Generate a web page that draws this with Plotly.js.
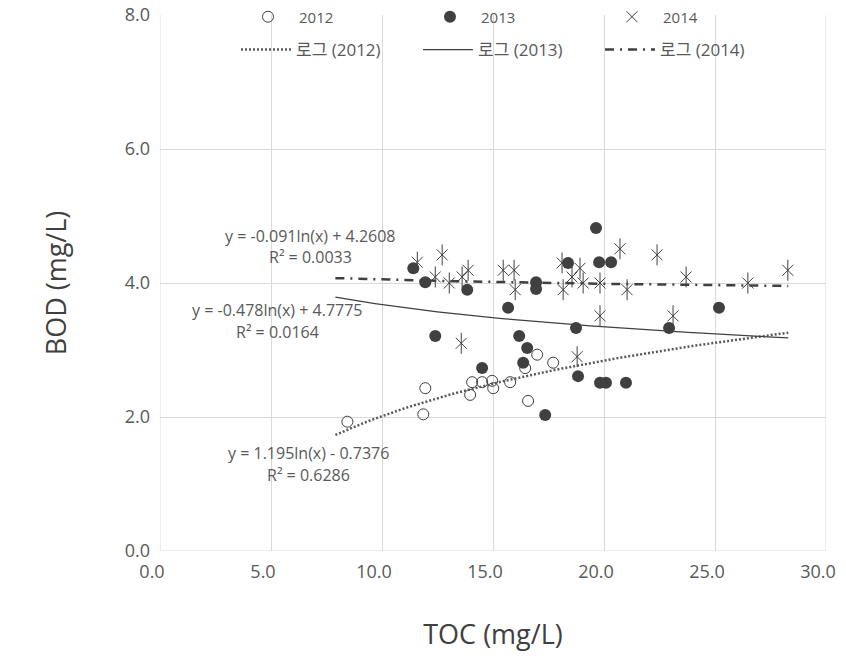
<!DOCTYPE html>
<html>
<head>
<meta charset="utf-8">
<script src="https://cdn.plot.ly/plotly-3.0.1.min.js"></script>
<style>
  html, body { margin: 0; padding: 0; background: #ffffff; }
  #chart { width: 846px; height: 661px; }
</style>
</head>
<body>
<div id="chart"></div>
<script>
// TOC vs BOD measurements by year (mg/L)
const toc2012 = [8.44, 11.95, 11.86, 13.97, 14.06, 14.51, 14.96, 15.01, 15.77, 16.99, 17.71, 16.45, 16.58];
const bod2012 = [1.93, 2.43, 2.04, 2.33, 2.52, 2.52, 2.54, 2.43, 2.52, 2.93, 2.81, 2.73, 2.24];

const toc2013 = [11.41, 11.95, 13.84, 12.40, 14.51, 16.94, 16.94, 15.68, 16.18, 16.54, 16.36, 17.35,
                 18.38, 19.78, 20.32, 19.64, 25.18, 18.74, 22.93, 18.83, 19.82, 20.09, 20.99];
const bod2013 = [4.22, 4.01, 3.90, 3.21, 2.73, 4.01, 3.91, 3.63, 3.21, 3.03, 2.81, 2.03,
                 4.30, 4.31, 4.31, 4.82, 3.63, 3.33, 3.33, 2.61, 2.51, 2.51, 2.51];

const toc2014 = [11.59, 12.71, 12.40, 13.03, 13.61, 13.88, 13.57, 15.46, 15.95, 16.00, 18.11, 18.92, 18.56,
                 18.16, 19.06, 19.82, 19.82, 18.79, 20.72, 21.04, 22.39, 23.70, 23.11, 26.48, 28.28];
const bod2014 = [4.31, 4.42, 4.09, 4.00, 4.09, 4.19, 3.10, 4.19, 4.19, 3.90, 4.30, 4.22, 4.09,
                 3.90, 4.00, 4.00, 3.51, 2.90, 4.51, 3.90, 4.42, 4.09, 3.51, 4.00, 4.19];

// Logarithmic trendlines: y = a*ln(x) + b
const years      = ['2012', '2013', '2014'];
const trendA     = [1.195, -0.478, -0.091];
const trendB     = [-0.7376, 4.7775, 4.2608];
const trendR2    = ['0.6286', '0.0164', '0.0033'];
const trendRange = [7.9, 28.3];

const xTicks = [0, 5, 10, 15, 20, 25, 30];
const yTicks = [0, 2, 4, 6, 8];

const FONT = 'Open Sans, "Noto Sans CJK KR", sans-serif';
const INK = '#404040';
const TXT = '#595959';

function equationText(i) {
  const a = trendA[i], b = trendB[i];
  const sign = b < 0 ? ' - ' : ' + ';
  return 'y = ' + a + 'ln(x)' + sign + Math.abs(b);
}
function trendPoints(i) {
  const xs = [], ys = [];
  const steps = 80;
  for (let k = 0; k <= steps; k++) {
    const x = trendRange[0] + (trendRange[1] - trendRange[0]) * k / steps;
    xs.push(x);
    ys.push(trendA[i] * Math.log(x) + trendB[i]);
  }
  return { xs, ys };
}

const t12 = trendPoints(0), t13 = trendPoints(1), t14 = trendPoints(2);

const traces = [
  { x: toc2012, y: bod2012, name: years[0], type: 'scatter', mode: 'markers', legend: 'legend',
    marker: { symbol: 'circle-open', size: 11, color: INK, line: { width: 1, color: INK } } },
  { x: toc2013, y: bod2013, name: years[1], type: 'scatter', mode: 'markers', legend: 'legend',
    marker: { symbol: 'circle', size: 12, color: INK } },
  { x: toc2014, y: bod2014, name: years[2], type: 'scatter', mode: 'markers', legend: 'legend',
    marker: { symbol: 'x-thin-open', size: 11, color: INK, line: { width: 1, color: INK } } },
  { x: toc2014, y: bod2014, name: years[2], type: 'scatter', mode: 'markers', showlegend: false,
    marker: { symbol: 'line-ns-open', size: 15, color: INK, line: { width: 1, color: INK } } },
  { x: t12.xs, y: t12.ys, name: '로그 (' + years[0] + ')', type: 'scatter', mode: 'lines', legend: 'legend2',
    line: { color: TXT, width: 2.5, dash: '2px,2px' } },
  { x: t13.xs, y: t13.ys, name: '로그 (' + years[1] + ')', type: 'scatter', mode: 'lines', legend: 'legend2',
    line: { color: INK, width: 1.25 } },
  { x: t14.xs, y: t14.ys, name: '로그 (' + years[2] + ')', type: 'scatter', mode: 'lines', legend: 'legend2',
    line: { color: INK, width: 2.5, dash: '9px,6px,2px,6px' } }
];

// Equation labels (centre x, line y in data units)
const labelPos = [
  { x: 6.7, yEq: 1.47, yR: 1.14 },
  { x: 5.3, yEq: 3.60, yR: 3.27 },
  { x: 6.8, yEq: 4.70, yR: 4.39 }
];
const annotations = [];
for (let i = 0; i < 3; i++) {
  annotations.push({ x: labelPos[i].x, y: labelPos[i].yEq, xref: 'x', yref: 'y', text: equationText(i),
    showarrow: false, font: { family: FONT, size: 16, color: TXT } });
  annotations.push({ x: labelPos[i].x, y: labelPos[i].yR, xref: 'x', yref: 'y', text: 'R² = ' + trendR2[i],
    showarrow: false, font: { family: FONT, size: 16, color: TXT } });
}

const legendCommon = {
  orientation: 'h', xanchor: 'left', yanchor: 'middle', bgcolor: 'rgba(0,0,0,0)',
  entrywidthmode: 'pixels', itemclick: false, itemdoubleclick: false
};

const layout = {
  width: 846, height: 661,
  margin: { l: 160, r: 20, t: 15, b: 110, autoexpand: false },
  paper_bgcolor: '#ffffff', plot_bgcolor: '#ffffff',
  font: { family: FONT, color: TXT },
  showlegend: true,
  legend: Object.assign({}, legendCommon, { x: 0.1156, y: 0.9963, itemwidth: 52, entrywidth: 115,
    font: { family: FONT, size: 15, color: TXT } }),
  legend2: Object.assign({}, legendCommon, { x: 0.1141, y: 0.9347, itemwidth: 50, entrywidth: 117,
    font: { family: FONT, size: 17, color: TXT } }),
  xaxis: {
    range: [0, 30], tickvals: xTicks, ticktext: xTicks.map(v => v.toFixed(1)),
    showgrid: true, gridcolor: '#d9d9d9', gridwidth: 1,
    zeroline: false, showline: false, ticks: '', ticklabelstandoff: 8, ticklabelshift: -8,
    tickfont: { family: FONT, size: 18, color: TXT },
    title: { text: 'TOC (mg/L)', font: { family: FONT, size: 27, color: INK }, standoff: 43 }
  },
  yaxis: {
    range: [0, 8], tickvals: yTicks, ticktext: yTicks.map(v => v.toFixed(1)),
    showgrid: true, gridcolor: '#d9d9d9', gridwidth: 1,
    zeroline: false, showline: false, ticks: '', ticklabelstandoff: 9,
    tickfont: { family: FONT, size: 18, color: TXT },
    title: { text: 'BOD (mg/L)', font: { family: FONT, size: 27, color: INK }, standoff: 50 }
  },
  shapes: [
    { type: 'line', xref: 'x', yref: 'y', x0: 0, x1: 30, y0: 0, y1: 0, line: { color: '#d9d9d9', width: 1 } },
    { type: 'line', xref: 'x', yref: 'y', x0: 0, x1: 0, y0: 0, y1: 8, line: { color: '#d9d9d9', width: 1 } },
    { type: 'line', xref: 'x', yref: 'y', x0: 30, x1: 30, y0: 0, y1: 8, line: { color: '#d9d9d9', width: 1 } }
  ],
  annotations: annotations
};

Plotly.newPlot('chart', traces, layout, { displayModeBar: false, staticPlot: true });
</script>
</body>
</html>
